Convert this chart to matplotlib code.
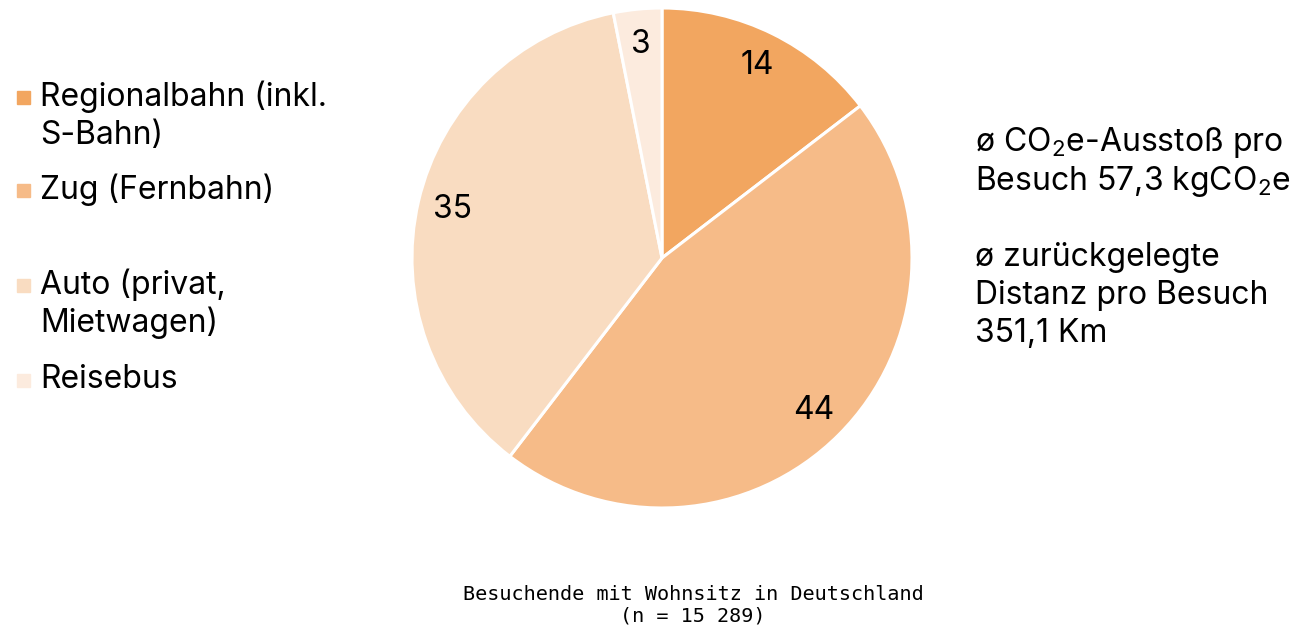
import matplotlib.pyplot as plt
from matplotlib.patches import Rectangle

plt.rcParams['font.family'] = ['Inter', 'DejaVu Sans']
plt.rcParams['mathtext.fontset'] = 'custom'
plt.rcParams['mathtext.rm'] = 'Inter'
plt.rcParams['mathtext.it'] = 'Inter'

# Data
labels = ['Regionalbahn (inkl.\nS-Bahn)', 'Zug (Fernbahn)', 'Auto (privat,\nMietwagen)', 'Reisebus']
values = [14, 44, 35, 3]
colors = ['#F2A660', '#F6BB88', '#F9DCC1', '#FCEBDE']
legend_y = [97, 190, 285, 380]   # pixel rows of legend entries
info_lines = [r'ø CO$_\mathrm{2}$e-Ausstoß pro', r'Besuch 57,3 kgCO$_\mathrm{2}$e', '',
              'ø zurückgelegte', 'Distanz pro Besuch', '351,1 Km']
caption = 'Besuchende mit Wohnsitz in Deutschland\n(n = 15 289)'

W, H = 1296, 627
fig = plt.figure(figsize=(W / 100, H / 100), dpi=100)

def fx(x):
    return x / W

def fy(y):
    return 1 - y / H

# Pie
ax = fig.add_axes([fx(412), fy(508), 500 / W, 500 / H])
wedges, texts = ax.pie(values, colors=colors, startangle=90, counterclock=False,
                       labels=[str(v) for v in values], labeldistance=0.86,
                       wedgeprops=dict(edgecolor='white', linewidth=2.2))
for t in texts:
    t.set_ha('center')
    t.set_va('center')
    t.set_fontsize(23)
    t.set_color('black')
ax.set_xlim(-1, 1)
ax.set_ylim(-1, 1)
ax.set_aspect('equal')

# Legend (manual)
for lab, col, y in zip(labels, colors, legend_y):
    fig.patches.append(Rectangle((fx(17), fy(y + 7)), 13 / W, 13 / H, color=col,
                                 transform=fig.transFigure, figure=fig))
    lines = lab.split('\n')
    for i, ln in enumerate(lines):
        fig.text(fx(40), fy(y + 38 * i), ln, fontsize=23, ha='left', va='center')

# Info text on the right
for i, ln in enumerate(info_lines):
    if ln:
        fig.text(fx(975), fy(143 + 38.2 * i), ln, fontsize=23, ha='left', va='center')

# Caption
fig.text(fx(693), fy(605), caption, fontsize=14.5, ha='center', va='center',
         family=['DejaVu Sans Mono'], linespacing=1.15)

fig.savefig('out.png', dpi=100)
